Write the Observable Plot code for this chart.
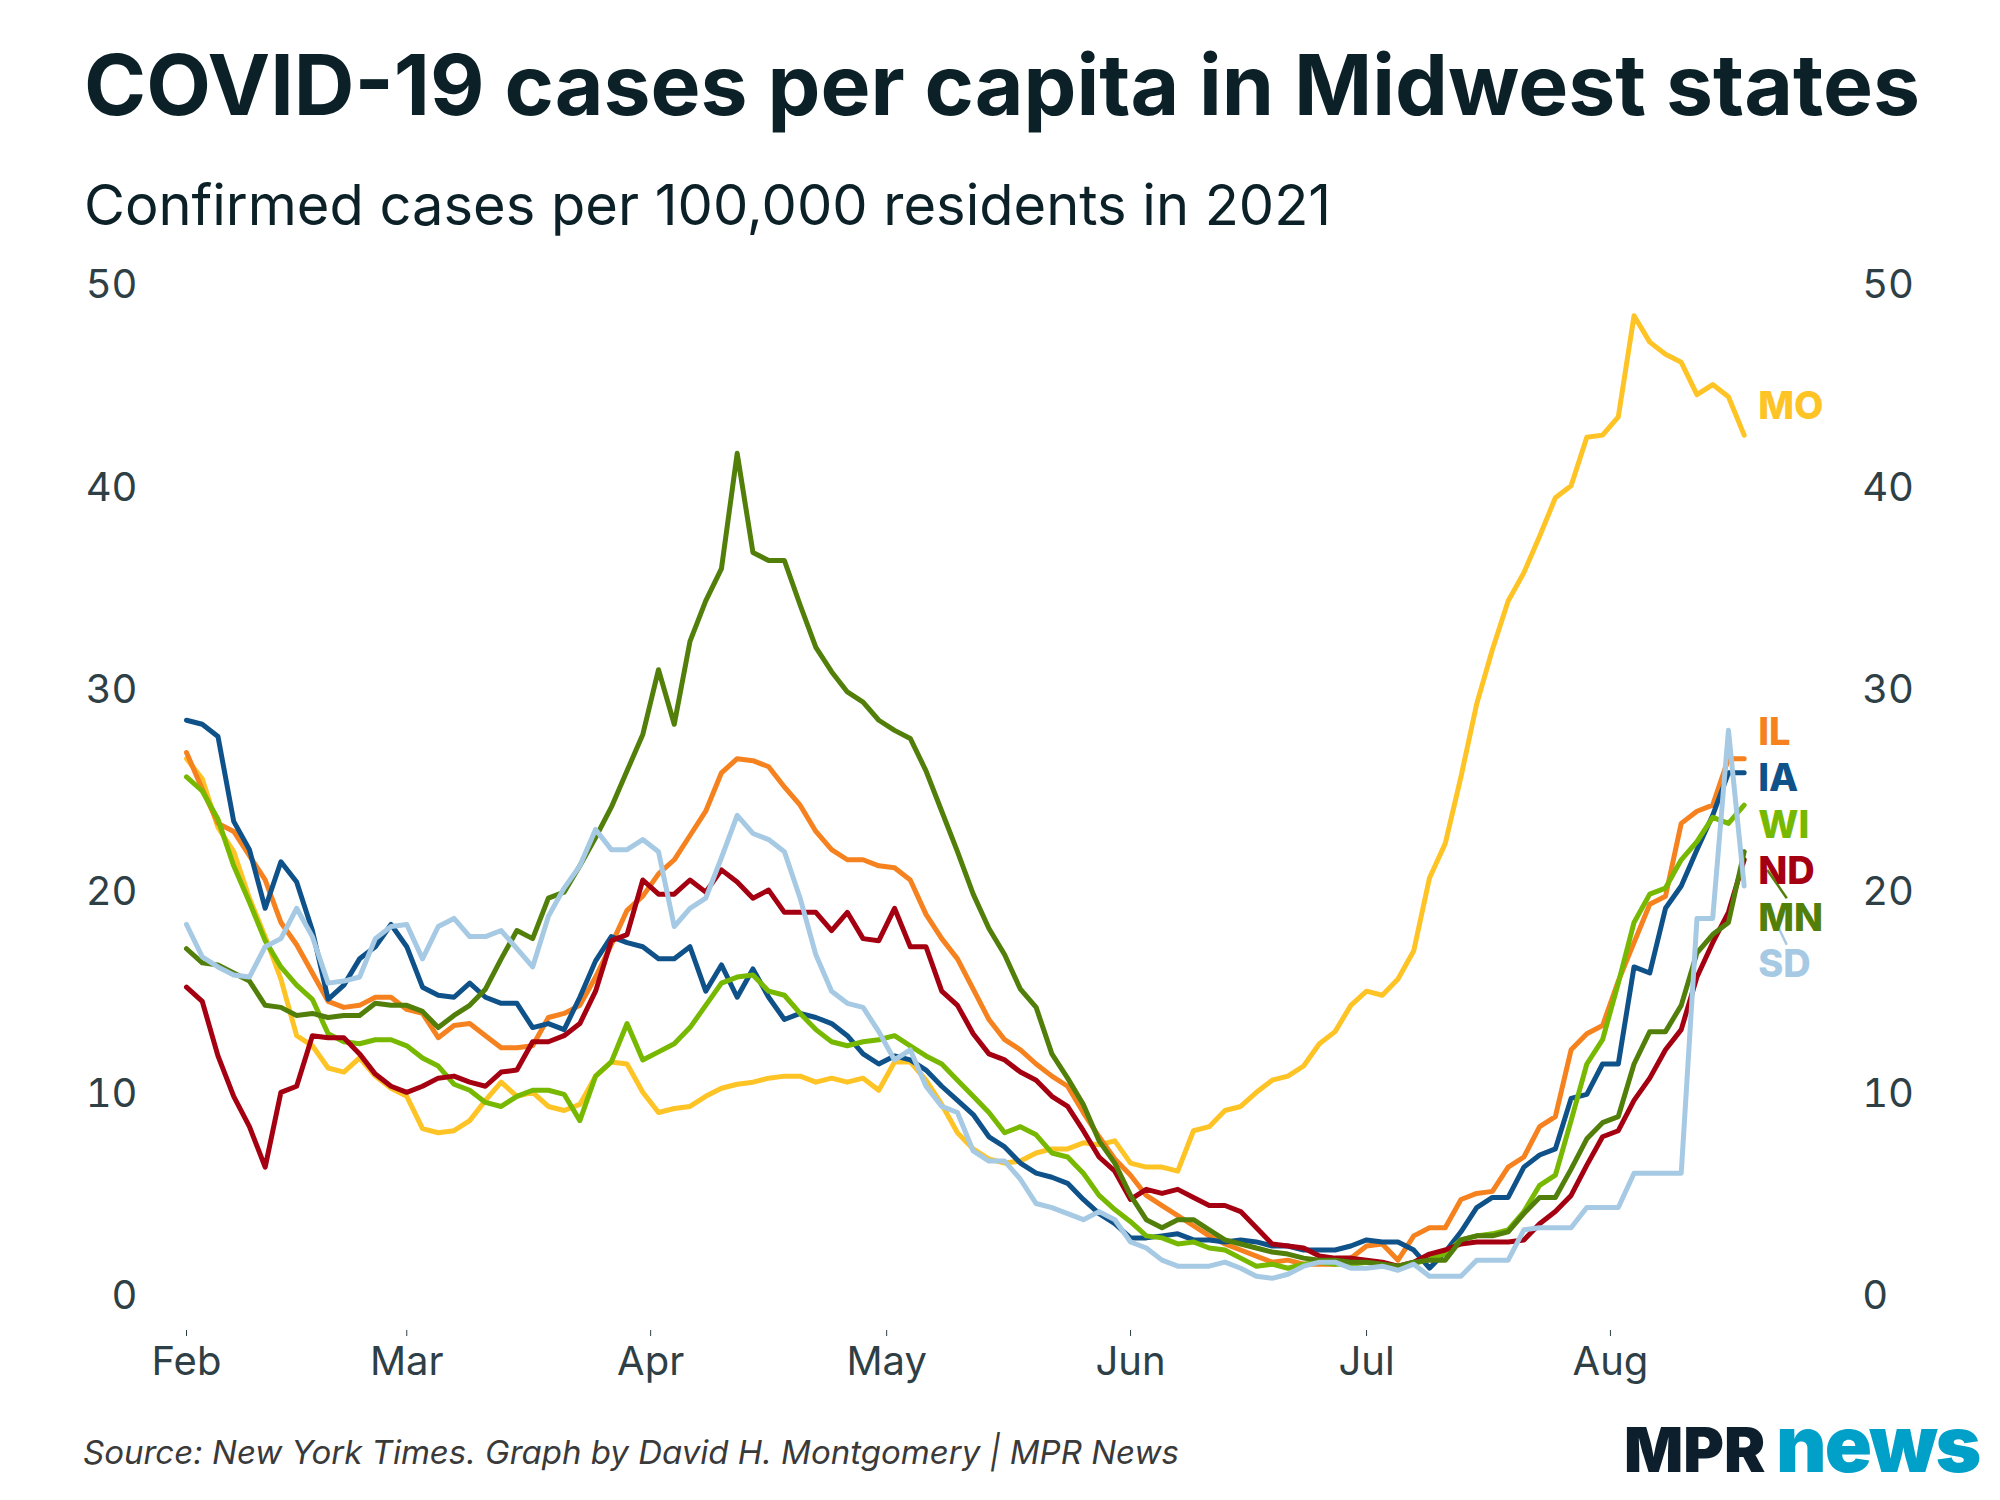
<!DOCTYPE html>
<html><head><meta charset="utf-8">
<script src="https://cdn.jsdelivr.net/npm/d3@7"></script>
<script src="https://cdn.jsdelivr.net/npm/@observablehq/plot@0.6"></script>
<style>
body{margin:0;background:#fff;width:2000px;height:1500px;position:relative;overflow:hidden;font-family:Inter,sans-serif;}
#title{position:absolute;left:84px;top:43px;font-size:84px;font-weight:700;line-height:1;color:#0c2127;white-space:nowrap;}
#subtitle{position:absolute;left:84px;top:177px;font-size:56px;font-weight:400;line-height:1;color:#0c2127;white-space:nowrap;}
#chart{position:absolute;left:0;top:250px;}
#source{position:absolute;left:83px;top:1436px;font-size:33px;font-style:italic;color:#3a3a3a;line-height:1;white-space:nowrap;}
#mpr{position:absolute;left:1624px;top:1419px;font-size:62px;font-weight:900;line-height:1;color:#0d1e2c;white-space:nowrap;}
#news{position:absolute;left:1776px;top:1405px;font-size:78px;font-weight:900;line-height:1;color:#00a0c8;white-space:nowrap;letter-spacing:-2px;}
</style></head>
<body>
<div id="title">COVID-19 cases per capita in Midwest states</div>
<div id="subtitle">Confirmed cases per 100,000 residents in 2021</div>
<div id="chart"></div>
<div id="source">Source: New York Times. Graph by David H. Montgomery | MPR News</div>
<div id="mpr">MPR</div><div id="news">news</div>
<script>
// Categories
const states = ["MO","IL","IA","WI","ND","MN","SD"];
const colors = ["#fec325","#f5821f","#0f5289","#77b800","#a50011","#517f0a","#a6c9e4"];
const monthTicks = ["2021-02-01","2021-03-01","2021-04-01","2021-05-01","2021-06-01","2021-07-01","2021-08-01"];
const startDate = "2021-02-01";
const stepDays = 2; // one reading every two days, Feb 1 – Aug 18
// Label positions (cases per 100k) at the right end
const labelPos = [44.0, 27.9, 25.6, 23.3, 21.0, 18.7, 16.4];

// Series values (confirmed cases per 100,000, 7-day avg)
const MO = [26.6,25.6,23.2,22.0,19.7,17.8,15.7,12.9,12.4,11.3,
11.1,11.8,10.9,10.3,9.9,8.3,8.1,8.2,8.7,9.7,
10.6,9.9,10.1,9.4,9.2,9.5,10.9,11.6,11.5,10.1,
9.1,9.3,9.4,9.9,10.3,10.5,10.6,10.8,10.9,10.9,
10.6,10.8,10.6,10.8,10.2,11.6,11.6,10.7,9.5,8.1,
7.3,6.8,6.6,6.7,7.1,7.3,7.3,7.6,7.5,7.7,
6.6,6.4,6.4,6.2,8.2,8.4,9.2,9.4,10.1,10.7,
10.9,11.4,12.5,13.1,14.4,15.1,14.9,15.7,17.1,20.7,
22.4,25.7,29.3,32.0,34.4,35.8,37.6,39.5,40.1,42.5,
42.6,43.5,48.5,47.2,46.6,46.2,44.6,45.1,44.5,42.6];
const IL = [26.9,25.1,23.4,23.0,21.8,20.6,18.5,17.4,16.0,14.6,
14.3,14.4,14.8,14.8,14.2,14.0,12.8,13.4,13.5,12.9,
12.3,12.3,12.4,13.8,14.0,14.4,15.8,17.4,19.1,19.8,
20.9,21.6,22.8,24.0,25.9,26.6,26.5,26.2,25.2,24.3,
23.0,22.1,21.6,21.6,21.3,21.2,20.6,18.9,17.7,16.7,
15.2,13.7,12.7,12.2,11.5,10.9,10.4,9.1,7.9,6.8,
6.0,5.0,4.5,4.0,3.5,3.0,2.6,2.3,2.0,1.7,
1.8,1.6,1.6,1.6,1.9,2.5,2.6,1.8,3.0,3.4,
3.4,4.8,5.1,5.2,6.4,6.9,8.4,8.9,12.2,13.0,
13.4,15.6,17.5,19.4,19.8,23.4,24.0,24.3,26.6,26.6];
const IA = [28.5,28.3,27.7,23.5,22.1,19.2,21.5,20.5,18.1,14.7,
15.4,16.7,17.3,18.4,17.3,15.3,14.9,14.8,15.5,14.8,
14.5,14.5,13.3,13.5,13.2,14.8,16.6,17.8,17.5,17.3,
16.7,16.7,17.3,15.1,16.4,14.8,16.2,14.8,13.7,14.0,
13.8,13.5,12.9,12.0,11.5,11.9,11.7,11.2,10.4,9.7,
9.0,7.9,7.4,6.6,6.1,5.9,5.6,4.8,4.1,3.6,
2.9,2.9,3.0,3.1,2.8,2.8,2.7,2.8,2.7,2.5,
2.5,2.3,2.3,2.3,2.5,2.8,2.7,2.7,2.3,1.4,
2.2,3.2,4.4,4.9,4.9,6.4,7.0,7.3,9.8,10.0,
11.5,11.5,16.3,16.0,19.2,20.3,22.1,23.8,25.9,25.9];
const WI = [25.7,25.0,23.6,21.3,19.5,17.6,16.3,15.4,14.7,13.0,
12.6,12.5,12.7,12.7,12.4,11.8,11.4,10.5,10.2,9.6,
9.4,9.9,10.2,10.2,10.0,8.7,10.9,11.6,13.5,11.7,
12.1,12.5,13.3,14.4,15.5,15.8,15.9,15.1,14.9,14.0,
13.2,12.6,12.4,12.6,12.7,12.9,12.4,11.9,11.5,10.7,
9.9,9.1,8.1,8.4,8.0,7.1,6.9,6.1,5.0,4.3,
3.7,3.0,2.9,2.6,2.7,2.4,2.3,1.9,1.5,1.6,
1.4,1.6,1.7,1.6,1.6,1.7,1.6,1.5,1.6,1.9,
2.1,2.8,3.0,3.1,3.3,4.2,5.5,6.0,8.7,11.5,
12.7,15.5,18.5,19.9,20.2,21.6,22.5,23.7,23.4,24.3];
const ND = [15.3,14.6,11.9,9.9,8.4,6.4,10.1,10.4,12.9,12.8,
12.8,12.0,11.0,10.4,10.1,10.4,10.8,10.9,10.6,10.4,
11.1,11.2,12.6,12.6,12.9,13.5,15.1,17.6,17.9,20.6,
19.9,19.9,20.6,20.0,21.1,20.5,19.7,20.1,19.0,19.0,
19.0,18.1,19.0,17.7,17.6,19.2,17.3,17.3,15.1,14.4,
13.0,12.0,11.7,11.1,10.7,9.9,9.4,8.2,6.9,6.2,
4.8,5.3,5.1,5.3,4.9,4.5,4.5,4.2,3.4,2.6,
2.5,2.4,2.0,1.9,1.9,1.8,1.7,1.5,1.7,2.1,
2.3,2.6,2.7,2.7,2.7,2.8,3.6,4.2,5.0,6.5,
7.9,8.2,9.7,10.8,12.2,13.2,15.8,17.5,19.0,21.6];
const MN = [17.2,16.5,16.4,16.0,15.6,14.4,14.3,13.9,14.0,13.8,
13.9,13.9,14.5,14.4,14.4,14.1,13.3,13.9,14.4,15.2,
16.7,18.1,17.7,19.7,20.0,21.3,22.7,24.2,26.0,27.8,
31.0,28.3,32.4,34.4,36.0,41.7,36.8,36.4,36.4,34.2,
32.1,30.9,29.9,29.4,28.5,28.0,27.6,26.0,24.0,22.0,
19.9,18.2,16.9,15.2,14.3,12.0,10.8,9.5,7.7,6.6,
5.0,3.8,3.4,3.8,3.8,3.3,2.8,2.6,2.4,2.2,
2.1,1.9,1.8,1.8,1.7,1.7,1.6,1.5,1.7,1.8,
1.8,2.8,3.0,3.0,3.2,4.1,4.9,4.9,6.3,7.8,
8.6,8.9,11.5,13.1,13.1,14.4,17.0,17.9,18.5,22.0];
const SD = [18.4,16.8,16.3,15.9,15.8,17.3,17.7,19.2,17.8,15.5,
15.6,15.8,17.7,18.3,18.4,16.7,18.3,18.7,17.8,17.8,
18.1,17.2,16.3,18.8,20.2,21.3,23.1,22.1,22.1,22.6,
22.0,18.3,19.2,19.7,21.7,23.8,22.9,22.6,22.0,19.7,
16.9,15.1,14.5,14.3,13.1,11.7,12.2,10.4,9.4,9.1,
7.2,6.7,6.7,5.8,4.6,4.4,4.1,3.8,4.2,3.8,
2.7,2.4,1.8,1.5,1.5,1.5,1.7,1.4,1.0,0.9,
1.1,1.5,1.7,1.7,1.4,1.4,1.5,1.3,1.6,1.0,
1.0,1.0,1.8,1.8,1.8,3.3,3.4,3.4,3.4,4.4,
4.4,4.4,6.1,6.1,6.1,6.1,18.7,18.7,28.0,20.3];

const seriesList = [MO, IL, IA, WI, ND, MN, SD];
const start = new Date(startDate + "T00:00:00Z");
const dates = MO.map((_, i) => d3.utcDay.offset(start, i * stepDays));
const end = dates[dates.length - 1];

const rows = states.flatMap((s, k) => seriesList[k].map((v, i) => ({state: s, date: dates[i], value: v})));

const labelDate = d3.utcHour.offset(end, 43);
const labels = states.map((s, k) => ({state: s, date: labelDate, value: labelPos[k]}));
const leaders = states.map((s, k) => ({state: s, last: seriesList[k][seriesList[k].length - 1], pos: labelPos[k]}))
  .filter(d => Math.abs(d.last - d.pos) > 2)
  .map(d => ({state: d.state, x1: d3.utcHour.offset(end, 70), y1: d.last - 0.9, x2: d3.utcHour.offset(end, 130), y2: d.pos + 1}));

const W = 2000;
const mLeft = 186, pxPerDay = 7.867;
const days = (end - start) / 864e5;
const mRight = W - mLeft - days * pxPerDay;

const chart = Plot.plot({
  width: W,
  height: 1140,
  marginLeft: mLeft,
  marginRight: mRight,
  marginTop: 35,
  marginBottom: 60,
  x: {type: "utc", domain: [start, end]},
  y: {domain: [-1.68, 50]},
  color: {domain: states, range: colors},
  style: {fontFamily: "Inter, sans-serif", color: "#2e4046", background: "transparent", overflow: "visible"},
  marks: [
    Plot.axisY({anchor: "left", ticks: [0,10,20,30,40,50], tickSize: 0, tickPadding: 49, fontSize: 40, tickFormat: d => String(d)}),
    Plot.axisY({anchor: "right", ticks: [0,10,20,30,40,50], tickSize: 0, tickPadding: 118, fontSize: 40, tickFormat: d => String(d)}),
    Plot.axisX({anchor: "bottom", ticks: monthTicks.map(d => new Date(d + "T00:00:00Z")), tickFormat: d3.utcFormat("%b"), tickSize: 6, tickPadding: 10, fontSize: 40}),
    Plot.lineY(rows, {x: "date", y: "value", z: "state", stroke: "state", strokeWidth: 5, strokeLinejoin: "round", strokeLinecap: "round"}),
    Plot.link(leaders, {x1: "x1", y1: "y1", x2: "x2", y2: "y2", stroke: "state", strokeWidth: 2.5}),
    Plot.text(labels, {x: "date", y: "value", text: "state", fill: "state", textAnchor: "start", fontSize: 38, fontWeight: 800})
  ]
});
document.getElementById("chart").appendChild(chart);
</script>
</body></html>
